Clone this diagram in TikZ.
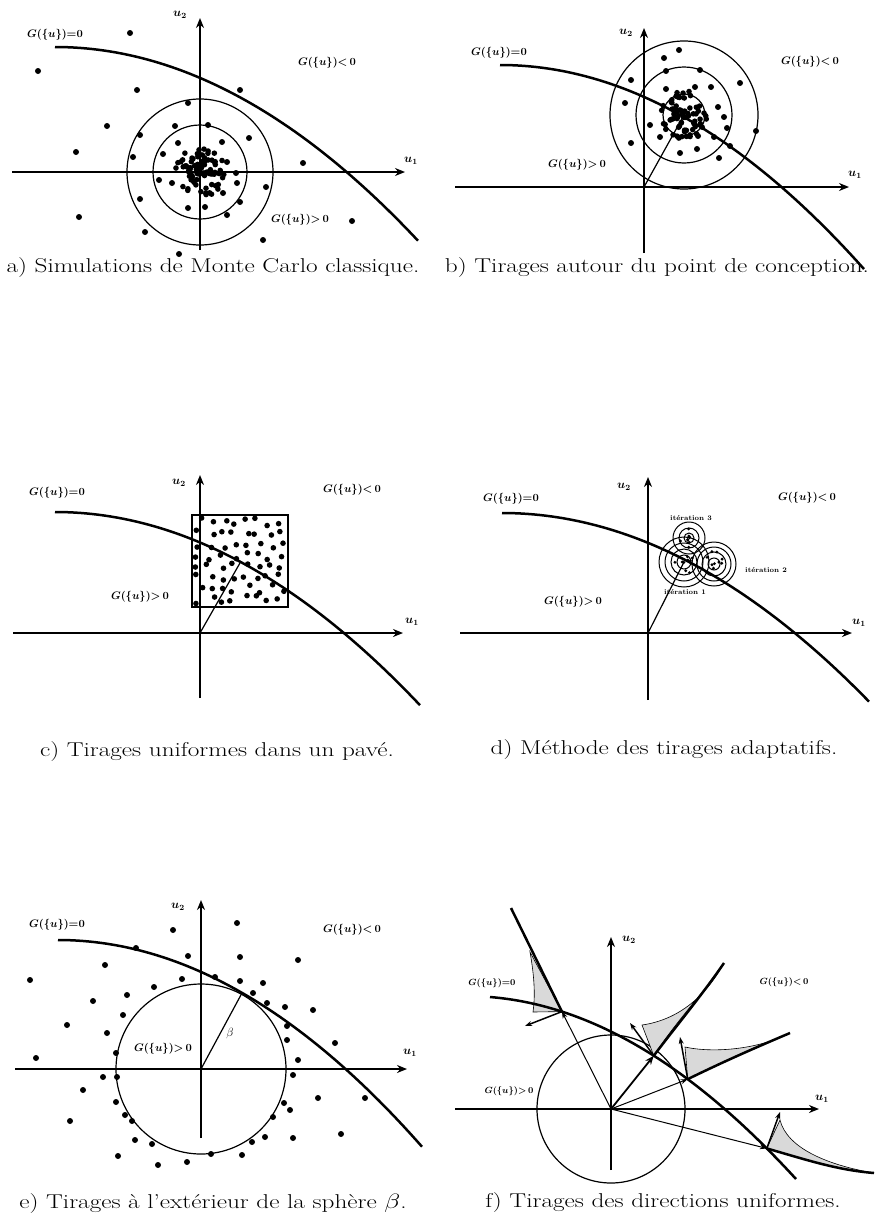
\documentclass[tikz,border=0pt]{standalone}
\usepackage{amsmath,amssymb,graphicx}
\usetikzlibrary{arrows.meta}
\newcommand\capt[1]{\scalebox{1.26}[1]{#1}}
\begin{document}
\begin{tikzpicture}[x=1pt,y=-1pt,
  axis/.style={line width=2.1pt,-{Stealth[length=10pt,width=8pt]}},
  lstate/.style={line width=2.5pt},
  ring/.style={line width=1.2pt},
  thinarr/.style={line width=1pt,-{Stealth[length=7pt,width=5pt]}},
  lbl/.style={font=\fontsize{11}{13}\selectfont\bfseries, inner sep=0pt},
  slbl/.style={font=\fontsize{9}{11}\selectfont\bfseries, inner sep=0pt},
  tlbl/.style={font=\fontsize{7}{8}\selectfont\bfseries, inner sep=0pt},
  axl/.style={font=\fontsize{12}{14}\selectfont, inner sep=0pt},
  captxt/.style={font=\fontsize{20}{24}\selectfont, inner sep=0pt},
  densfill/.style={fill=black!15, draw=black, line width=0.6pt},
]
\useasboundingbox[fill=white] (0,0) rectangle (877,1218);

% ---------------- panel a ----------------
\begin{scope}[name prefix=a-]
  \coordinate (O) at (200,172);
  \coordinate (xs) at (12,172); \coordinate (xe) at (405,172);
  \coordinate (ys) at (200,250); \coordinate (ye) at (200,18);
  \draw[ring] (O) circle (47pt);
  \draw[ring] (O) circle (73pt);
  \foreach \p in {(130,33),(38,71),(137,90),(240,90),(188,103),(107,126),(76,152),(140,135),(175,126),(208,125),(249,138),(133,157),(303,163),(163,154),(222,142),(178,143),(227,162),(236,173),(159,180),(172,183),(237,183),(266,187),(223,193),(140,199),(240,202),(188,208),(205,207),(227,215),(79,217),(352,221),(145,232),(263,240),(179,254)}
    \fill \p circle (3pt);
  \pgfmathsetseed{4242}
  \foreach \i in {1,...,90}{
    \pgfmathsetmacro\rr{25*rnd^0.7}\pgfmathsetmacro\ang{360*rnd}
    \fill ({200+\rr*cos(\ang)},{172+\rr*sin(\ang)}) circle (2.8pt);}
  \draw[axis] (xs) -- (xe);
  \draw[axis] (ys) -- (ye);
  \draw[lstate] plot[domain=55:418,samples=60] (\x,{47+0.147*((\x-55)/10)^2});
  \node[axl] (u2) at (180,15) {$\boldsymbol{u_2}$};
  \node[axl] (u1) at (411,161) {$\boldsymbol{u_1}$};
  \node[lbl] (g0) at (55,35) {$\boldsymbol{G(\{u\}){=}0}$};
  \node[lbl] (gn) at (327,63) {$\boldsymbol{G(\{u\}){<}\,0}$};
  \node[lbl] (gp) at (300,220) {$\boldsymbol{G(\{u\}){>}\,0}$};
  \node[captxt] (cap) at (213,268) {\capt{a) Simulations de Monte Carlo classique.}};
\end{scope}

% ---------------- panel b ----------------
\begin{scope}[shift={(437,0)},name prefix=b-]
  \coordinate (O) at (207,187);
  \coordinate (D) at (247,115);
  \coordinate (xs) at (18,187); \coordinate (xe) at (412,187);
  \coordinate (ys) at (207,253); \coordinate (ye) at (207,28);
  \draw[ring] (D) circle (74pt);
  \draw[ring] (D) circle (48pt);
  \draw[ring] (D) circle (21pt);
  \draw[line width=1.2pt] (O) -- (D);
  \foreach \p in {(242,50),(227,58),(229,71),(263,70),(194,80),(303,83),(229,89),(258,87),(274,87),(188,103),(281,107),(213,125),(290,128),(319,131),(223,137),(261,136),(277,137),(194,143),(293,146),(243,153),(260,149),(282,158),(287,117)}
    \fill \p circle (3pt);
  \pgfmathsetseed{777}
  \foreach \i in {1,...,70}{
    \pgfmathsetmacro\rr{24*rnd^0.7}\pgfmathsetmacro\ang{360*rnd}
    \fill ({247+\rr*cos(\ang)},{115+\rr*sin(\ang)}) circle (2.8pt);}
  \draw[axis] (xs) -- (xe);
  \draw[axis] (ys) -- (ye);
  \draw[lstate] plot[domain=63:427,samples=60] (\x,{65+0.154*((\x-63)/10)^2});
  \node[axl] (u2) at (189,33) {$\boldsymbol{u_2}$};
  \node[axl] (u1) at (418,175) {$\boldsymbol{u_1}$};
  \node[lbl] (g0) at (62,53) {$\boldsymbol{G(\{u\}){=}0}$};
  \node[lbl] (gn) at (373,62) {$\boldsymbol{G(\{u\}){<}\,0}$};
  \node[lbl] (gp) at (140,165) {$\boldsymbol{G(\{u\}){>}\,0}$};
  \node[captxt] (cap) at (220,268) {\capt{b) Tirages autour du point de conception.}};
\end{scope}

% ---------------- panel c ----------------
\begin{scope}[shift={(0,450)},name prefix=c-]
  \coordinate (O) at (200,183);
  \coordinate (D) at (240,113);
  \coordinate (xs) at (13,183); \coordinate (xe) at (403,183);
  \coordinate (ys) at (200,248); \coordinate (ye) at (200,25);
  \draw[line width=1.5pt] (192,65) rectangle (288,157);
  \pgfmathsetseed{31}
  \foreach \i in {0,...,7}{\foreach \j in {0,...,7}{
    \pgfmathsetmacro\px{192+7+11.7*\i+4.5*rand}\pgfmathsetmacro\py{65+7+11.1*\j+4.5*rand}
    \fill (\px,\py) circle (2.8pt);}}
  \draw[line width=1.2pt] (O) -- (D);
  \draw[axis] (xs) -- (xe);
  \draw[axis] (ys) -- (ye);
  \draw[lstate] plot[domain=55:420,samples=60] (\x,{62+0.145*((\x-55)/10)^2});
  \node[axl] (u2) at (179,33) {$\boldsymbol{u_2}$};
  \node[axl] (u1) at (412,172) {$\boldsymbol{u_1}$};
  \node[lbl] (g0) at (57,43) {$\boldsymbol{G(\{u\}){=}0}$};
  \node[lbl] (gn) at (352,40) {$\boldsymbol{G(\{u\}){<}\,0}$};
  \node[lbl] (gp) at (140,147) {$\boldsymbol{G(\{u\}){>}\,0}$};
  \node[captxt] (cap) at (217,302) {\capt{c) Tirages uniformes dans un pavé.}};
\end{scope}

% ---------------- panel d ----------------
\begin{scope}[shift={(437,450)},name prefix=d-]
  \coordinate (O) at (211,183);
  \coordinate (I1) at (247,112);
  \coordinate (I2) at (277,114);
  \coordinate (I3) at (252,88);
  \coordinate (xs) at (23,183); \coordinate (xe) at (415,183);
  \coordinate (ys) at (211,250); \coordinate (ye) at (211,27);
  \foreach \r in {7,13,19,25} \draw[line width=1pt] (I1) circle (\r pt);
  \foreach \r in {6,12,17,22} \draw[line width=1pt] (I2) circle (\r pt);
  \foreach \r in {5,10,16} \draw[line width=1pt] (I3) circle (\r pt);
  \pgfmathsetseed{99}
  \foreach \c in {(247,112),(277,114),(252,88)}{
    \foreach \i in {1,...,9}{
      \pgfmathsetmacro\rr{13*rnd}\pgfmathsetmacro\ang{360*rnd}
      \fill \c ++({\rr*cos(\ang)},{\rr*sin(\ang)}) circle (1.6pt);}}
  \draw[line width=1.2pt] (O) -- (I1);
  \draw[axis] (xs) -- (xe);
  \draw[axis] (ys) -- (ye);
  \draw[lstate] plot[domain=65:432,samples=60] (\x,{63+0.14*((\x-65)/10)^2});
  \node[axl] (u2) at (187,37) {$\boldsymbol{u_2}$};
  \node[axl] (u1) at (422,173) {$\boldsymbol{u_1}$};
  \node[tlbl] (it3) at (254,68) {itération 3};
  \node[tlbl] (it2) at (329,120) {itération 2};
  \node[tlbl] (it1) at (248,142) {itération 1};
  \node[lbl] (g0) at (74,49) {$\boldsymbol{G(\{u\}){=}0}$};
  \node[lbl] (gn) at (370,48) {$\boldsymbol{G(\{u\}){<}\,0}$};
  \node[lbl] (gp) at (136,152) {$\boldsymbol{G(\{u\}){>}\,0}$};
  \node[captxt] (cap) at (227,300) {\capt{d) Méthode des tirages adaptatifs.}};
\end{scope}

% ---------------- panel e ----------------
\begin{scope}[shift={(0,880)},name prefix=e-]
  \coordinate (O) at (201,189);
  \coordinate (T) at (242,113);
  \coordinate (xs) at (15,189); \coordinate (xe) at (407,189);
  \coordinate (ys) at (201,258); \coordinate (ye) at (201,20);
  \draw[ring] (O) circle (85pt);
  \foreach \p in {(173,50),(237,43),(188,76),(240,77),(298,80),(136,68),(105,85),(30,100),(182,99),(240,101),(263,103),(154,107),(127,115),(93,121),(253,113),(267,123),(285,127),(313,130),(123,135),(67,145),(287,146),(107,153),(287,160),(335,163),(116,173),(36,178),(298,180),(103,197),(117,197),(293,195),(83,210),(318,218),(365,218),(116,222),(284,223),(290,230),(125,235),(132,241),(273,237),(70,241),(135,260),(152,264),(252,262),(265,257),(293,258),(341,254),(118,276),(158,285),(187,282),(211,274),(242,275),(215,97)}
    \fill \p circle (3pt);
  \draw[line width=1.2pt] (O) -- (T);
  \draw[axis] (xs) -- (xe);
  \draw[axis] (ys) -- (ye);
  \draw[lstate] plot[domain=58:422,samples=60] (\x,{60+0.156*((\x-58)/10)^2});
  \node[axl] (u2) at (178,27) {$\boldsymbol{u_2}$};
  \node[axl] (u1) at (410,173) {$\boldsymbol{u_1}$};
  \node[axl] (beta) at (230,153) {$\beta$};
  \node[lbl] (g0) at (57,45) {$\boldsymbol{G(\{u\}){=}0}$};
  \node[lbl] (gn) at (352,50) {$\boldsymbol{G(\{u\}){<}\,0}$};
  \node[lbl] (gp) at (163,169) {$\boldsymbol{G(\{u\}){>}\,0}$};
  \node[captxt] (cap) at (213,323) {\capt{e) Tirages à l'extérieur de la sphère $\beta$.}};
\end{scope}

% ---------------- panel f ----------------
\begin{scope}[shift={(437,880)},name prefix=f-]
  \coordinate (O) at (174,229);
  \path (53,117) .. controls (150,125) and (250,180) .. (359,299)
     coordinate[pos=0.245] (P1) coordinate[pos=0.55] (P2)
     coordinate[pos=0.66] (P3) coordinate[pos=0.91] (P4);
  \coordinate (xs) at (18,229); \coordinate (xe) at (382,229);
  \coordinate (ys) at (174,290); \coordinate (ye) at (174,57);
  \draw[ring] (O) circle (74pt);
  % shaded densities
  \draw[densfill] (93,72) .. controls (98,100) and (98,118) .. (96,132) -- (P1) -- cycle;
  \draw[densfill] (205,145) .. controls (240,140) and (268,118) .. (287,83) .. controls (265,115) and (240,140) .. (P2) -- cycle;
  \draw[densfill] (248,167) .. controls (275,173) and (320,170) .. (353,153) .. controls (320,168) and (290,180) .. (P3) -- cycle;
  \draw[densfill] (343,240) .. controls (350,268) and (390,285) .. (437,293) .. controls (400,290) and (370,280) .. (P4) -- cycle;
  \draw[lstate] (74,28) -- (P1);
  \draw[lstate] (P2) .. controls (240,145) and (265,115) .. (287,83);
  \draw[lstate] (P3) .. controls (290,180) and (320,167) .. (353,153);
  \draw[lstate] (P4) .. controls (370,280) and (400,290) .. (437,293);
  \draw[thinarr] (O) -- (P1);
  \draw[line width=1.8pt,-{Stealth[length=9pt,width=7pt]}] (O) -- (P2);
  \draw[thinarr] (O) -- (P3);
  \draw[thinarr] (O) -- (P4);
  \draw[line width=1.5pt,-{Stealth[length=7pt,width=5pt]}] (P1) -- (88,146);
  \draw[line width=1.5pt,-{Stealth[length=7pt,width=5pt]}] (P2) -- (193,143);
  \draw[line width=1.5pt,-{Stealth[length=7pt,width=5pt]}] (P3) -- (243,157);
  \draw[line width=1.5pt,-{Stealth[length=7pt,width=5pt]}] (P4) -- (343,232);
  \draw[axis] (xs) -- (xe);
  \draw[axis] (ys) -- (ye);
  \draw[lstate] (53,117) .. controls (150,125) and (250,180) .. (359,299);
  \node[axl] (u2) at (192,60) {$\boldsymbol{u_2}$};
  \node[axl] (u1) at (385,219) {$\boldsymbol{u_1}$};
  \node[slbl] (g0) at (55,103) {$\boldsymbol{G(\{u\}){=}0}$};
  \node[slbl] (gn) at (347,102) {$\boldsymbol{G(\{u\}){<}\,0}$};
  \node[slbl] (gp) at (72,211) {$\boldsymbol{G(\{u\}){>}\,0}$};
  \node[captxt] (cap) at (226,322) {\capt{f) Tirages des directions uniformes.}};
\end{scope}
\end{tikzpicture}
\end{document}
